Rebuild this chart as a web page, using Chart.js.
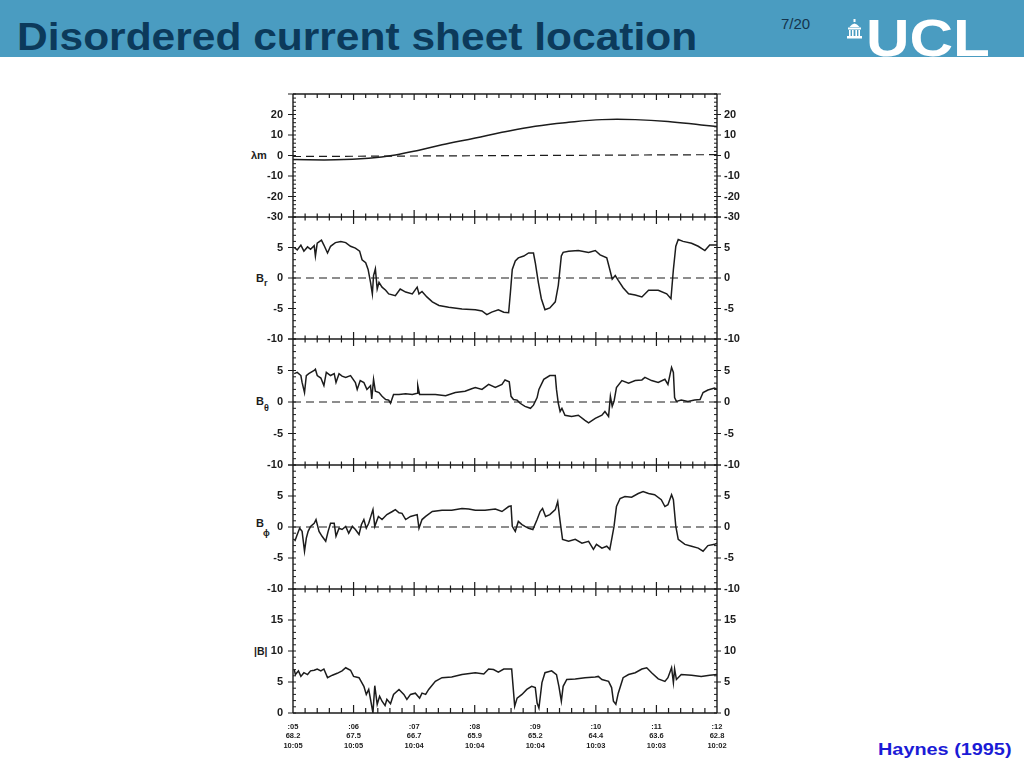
<!DOCTYPE html>
<html>
<head>
<meta charset="utf-8">
<title>Disordered current sheet location</title>
<script src="https://cdn.jsdelivr.net/npm/chart.js@4.4.0/dist/chart.umd.min.js"></script>
<style>
  body { margin:0; width:1024px; height:768px; overflow:hidden; position:relative; background:#fff; font-family:"Liberation Sans", Arial, sans-serif; }
  #header { position:absolute; left:0; top:0; width:1024px; height:57px; background:#4a9cc1; overflow:hidden; }
  #title { position:absolute; left:17px; top:17px; font-size:39px; line-height:39px; font-weight:bold; color:#0c3a5b; white-space:nowrap; transform-origin:0 0; }
  #page { position:absolute; left:781px; top:16px; font-size:15px; line-height:16px; color:#14344c; }
  #ucl { position:absolute; left:866px; top:12px; font-size:52px; line-height:52px; font-weight:bold; color:#fff; white-space:nowrap; transform-origin:0 0; }
  #icon { position:absolute; left:846px; top:19px; }
  .panel { position:absolute; left:235px; }
  .ylab { position:absolute; font-weight:bold; font-size:11px; line-height:12px; color:#1c1c1c; white-space:nowrap; }
  .ylab span { font-size:9px; position:relative; }
  #cite { position:absolute; left:878px; top:741px; font-size:16px; line-height:18px; font-weight:bold; color:#1b1bd6; white-space:nowrap; transform-origin:0 0; }
</style>
</head>
<body>
<div id="header">
  <div id="title">Disordered current sheet location</div>
  <div id="page">7/20</div>
  <svg id="icon" width="17" height="21" viewBox="0 0 17 21" fill="#fff">
    <rect x="7.5" y="0" width="2" height="3"/>
    <path d="M3.5 8 Q8.5 1 13.5 8 Z"/>
    <rect x="2" y="8.5" width="13" height="2"/>
    <rect x="3" y="11" width="1.6" height="6"/>
    <rect x="6" y="11" width="1.6" height="6"/>
    <rect x="9.4" y="11" width="1.6" height="6"/>
    <rect x="12.4" y="11" width="1.6" height="6"/>
    <rect x="1" y="17" width="15" height="2.5"/>
  </svg>
  <div id="ucl">UCL</div>
</div>

<div class="ylab" style="left:251px;top:149px">λm</div>
<div class="ylab" style="left:256px;top:272px">B<span style="top:4px">r</span></div>
<div class="ylab" style="left:256px;top:395px">B<span style="top:6px">θ</span></div>
<div class="ylab" style="left:256px;top:517px">B<span style="top:9px;left:-1px">ϕ</span></div>
<div class="ylab" style="left:254px;top:645px;font-size:10.5px">|B|</div>

<div id="cite">Haynes (1995)</div>

<script>
// minutes after 10:00 (x axis), field values from the scan
const lamTime  = [5.00, 5.70, 6.25, 6.69, 7.08, 7.46, 8.01, 8.45, 9.00, 9.55, 10.10, 10.65, 11.19, 11.74, 12.00];
const lamValue = [-2.0, -2.1, -1.3, 0.3, 2.6, 5.2, 8.5, 11.3, 14.3, 16.2, 17.5, 17.5, 16.6, 14.9, 14.1];
const lamZero  = [-0.5, 0.4];

const brTime = [5.02, 5.07, 5.13, 5.18, 5.24, 5.29, 5.35, 5.37, 5.40, 5.47, 5.51, 5.57, 5.62, 5.70, 5.79, 5.87, 5.95,
  6.03, 6.10, 6.14, 6.20, 6.24, 6.28, 6.31, 6.33, 6.36, 6.39, 6.42, 6.47, 6.53, 6.58, 6.69, 6.77, 6.86, 6.97,
  7.05, 7.08, 7.13, 7.21, 7.30, 7.41, 7.57, 7.79, 8.01, 8.12, 8.20, 8.28, 8.39, 8.48, 8.56, 8.59, 8.62, 8.67,
  8.72, 8.81, 8.89, 8.97, 9.00, 9.05, 9.10, 9.16, 9.24, 9.33, 9.38, 9.43, 9.46, 9.55, 9.71, 9.88, 9.99, 10.07,
  10.18, 10.23, 10.27, 10.32, 10.37, 10.45, 10.54, 10.65, 10.76, 10.87, 11.03, 11.17, 11.24, 11.28, 11.32,
  11.36, 11.44, 11.58, 11.69, 11.80, 11.88, 12.00];
const brValue = [5.0, 4.6, 5.4, 4.4, 5.1, 4.7, 5.3, 3.6, 5.7, 6.2, 5.4, 4.1, 5.2, 5.8, 6.0, 5.8, 5.2,
  4.9, 4.4, 3.0, 2.5, 1.4, -0.7, -2.6, 0.4, 1.5, -1.8, -0.7, -1.5, -2.0, -2.6, -2.9, -1.8, -2.3, -2.6,
  -1.5, -2.6, -2.2, -3.1, -3.9, -4.5, -4.8, -5.1, -5.2, -5.4, -6.0, -5.6, -5.2, -5.6, -5.7, -2.3, 1.4, 2.8,
  3.3, 3.6, 4.1, 4.1, 2.5, -0.7, -3.4, -5.2, -4.9, -3.9, -1.2, 3.6, 4.2, 4.4, 4.5, 4.2, 4.5, 3.8,
  3.3, 1.4, -0.2, 0.4, -0.4, -1.6, -2.6, -2.8, -3.1, -2.0, -2.0, -2.6, -3.4, 1.4, 5.2,
  6.3, 6.0, 5.7, 5.2, 4.5, 5.4, 5.4];

const bthTime = [5.02, 5.07, 5.13, 5.15, 5.19, 5.22, 5.26, 5.35, 5.37, 5.40, 5.46, 5.51, 5.55, 5.62, 5.68, 5.71,
  5.76, 5.81, 5.87, 5.95, 6.03, 6.06, 6.11, 6.17, 6.22, 6.28, 6.30, 6.33, 6.36, 6.42, 6.47, 6.53, 6.58, 6.61,
  6.66, 6.75, 6.86, 6.97, 7.05, 7.06, 7.09, 7.19, 7.35, 7.52, 7.68, 7.84, 7.95, 8.01, 8.12, 8.23, 8.34, 8.45,
  8.50, 8.57, 8.60, 8.64, 8.70, 8.75, 8.83, 8.92, 8.97, 9.03, 9.06, 9.14, 9.24, 9.33, 9.35, 9.38, 9.41, 9.44,
  9.49, 9.60, 9.71, 9.82, 9.88, 9.99, 10.10, 10.15, 10.21, 10.24, 10.27, 10.30, 10.34, 10.43, 10.54, 10.65,
  10.76, 10.81, 10.92, 11.03, 11.14, 11.19, 11.25, 11.28, 11.30, 11.33, 11.41, 11.52, 11.63, 11.72, 11.77,
  11.85, 11.96, 12.00];
const bthValue = [4.5, 4.7, 4.2, 3.1, 1.5, 4.2, 4.5, 5.0, 5.2, 4.2, 3.8, 2.6, 4.7, 4.2, 4.5, 3.1,
  4.5, 4.1, 3.9, 4.2, 3.1, 2.0, 3.4, 3.1, 2.0, 2.6, 0.5, 3.6, 1.7, 1.5, 0.9, 0.4, 0.3, -0.2,
  1.2, 1.2, 1.3, 1.2, 1.4, 2.6, 1.2, 1.2, 1.2, 1.0, 1.5, 1.7, 2.1, 2.3, 2.0, 2.8, 2.3, 2.8,
  3.5, 3.2, 0.9, 0.4, 0.3, -0.2, -0.7, -1.0, -0.5, 0.7, 2.0, 3.6, 4.2, 4.2, 2.0, -0.2, -1.5, -1.0,
  -2.1, -2.3, -2.1, -2.9, -3.3, -2.6, -2.1, -1.5, -2.3, 0.9, -0.7, 0.1, 2.3, 3.4, 3.0, 3.4,
  3.5, 3.9, 3.4, 3.1, 3.6, 2.8, 5.5, 4.7, 0.7, 0.1, 0.3, 0.1, 0.3, 0.4, 1.5,
  1.9, 2.2, 2.0];

const bphTime = [5.03, 5.07, 5.11, 5.15, 5.19, 5.22, 5.25, 5.29, 5.35, 5.38, 5.43, 5.48, 5.54, 5.58, 5.62, 5.68,
  5.71, 5.76, 5.81, 5.87, 5.92, 5.98, 6.03, 6.09, 6.13, 6.17, 6.21, 6.25, 6.30, 6.32, 6.35, 6.41, 6.47, 6.55,
  6.64, 6.69, 6.75, 6.80, 6.86, 6.94, 7.05, 7.08, 7.13, 7.19, 7.30, 7.46, 7.62, 7.79, 7.90, 8.01, 8.17, 8.34,
  8.45, 8.56, 8.60, 8.62, 8.67, 8.72, 8.78, 8.83, 8.89, 8.96, 9.03, 9.08, 9.12, 9.17, 9.24, 9.33, 9.37, 9.41,
  9.45, 9.55, 9.66, 9.77, 9.88, 9.96, 10.01, 10.10, 10.18, 10.23, 10.27, 10.30, 10.34, 10.40, 10.48, 10.59,
  10.70, 10.78, 10.87, 10.97, 11.08, 11.14, 11.19, 11.25, 11.28, 11.32, 11.36, 11.47, 11.58, 11.69, 11.77,
  11.85, 11.96, 12.00];
const bphValue = [-2.3, -1.2, -0.2, -0.7, -3.9, -1.8, -0.7, 0.1, 0.6, 1.2, -0.7, -1.5, -2.3, -0.7, 0.6, 0.6,
  -1.5, -0.2, -0.4, 0.1, -1.0, 0.1, -0.4, -1.2, 0.4, 1.2, -0.2, 0.6, 2.2, 2.8, 0.1, 1.7, 1.2, 2.0,
  2.5, 2.8, 2.3, 2.2, 1.2, 1.7, 2.0, -0.2, 1.2, 1.7, 2.5, 2.7, 2.7, 3.0, 2.9, 2.7, 2.7, 2.9,
  2.5, 3.3, 3.4, 0.1, -0.7, 0.9, 0.4, 0.1, -0.2, -0.4, 1.2, 2.5, 3.0, 1.7, 2.0, 2.8, 4.1, 0.9,
  -2.0, -2.3, -2.0, -2.6, -2.3, -3.6, -2.8, -3.4, -3.1, -3.6, -1.5, 0.1, 3.3, 4.6, 4.9, 4.8,
  5.4, 5.7, 5.4, 5.2, 4.4, 3.3, 3.6, 5.2, 4.4, 0.1, -2.0, -2.8, -3.1, -3.4, -3.9,
  -3.0, -2.8, -2.6];

const bmagTime = [5.02, 5.04, 5.09, 5.13, 5.18, 5.24, 5.29, 5.35, 5.40, 5.46, 5.51, 5.57, 5.65, 5.73, 5.81, 5.87,
  5.95, 6.00, 6.09, 6.17, 6.21, 6.25, 6.28, 6.32, 6.35, 6.39, 6.43, 6.47, 6.52, 6.55, 6.61, 6.66, 6.75, 6.83,
  6.88, 6.94, 7.02, 7.09, 7.13, 7.19, 7.24, 7.35, 7.46, 7.62, 7.79, 8.01, 8.15, 8.23, 8.31, 8.39, 8.48, 8.61,
  8.66, 8.70, 8.78, 8.86, 8.94, 9.00, 9.03, 9.06, 9.11, 9.16, 9.27, 9.35, 9.39, 9.43, 9.46, 9.52, 9.66, 9.82,
  9.99, 10.04, 10.10, 10.21, 10.26, 10.29, 10.33, 10.37, 10.45, 10.54, 10.65, 10.76, 10.84, 10.92, 11.03,
  11.14, 11.19, 11.25, 11.28, 11.30, 11.33, 11.41, 11.58, 11.74, 11.88, 12.00];
const bmagValue = [7.0, 6.2, 6.8, 5.9, 6.5, 6.2, 6.8, 6.9, 7.1, 6.8, 7.1, 5.7, 6.1, 6.4, 6.8, 7.3,
  6.9, 5.9, 5.7, 4.3, 3.0, 3.8, 2.2, 0.0, 4.4, 1.4, 2.7, 1.9, 1.2, 2.2, 1.5, 3.0, 3.8, 3.0,
  2.2, 3.0, 3.2, 2.4, 3.2, 3.0, 3.8, 5.1, 5.7, 5.8, 6.2, 6.5, 6.3, 7.1, 7.0, 6.6, 7.1, 7.1,
  1.1, 2.4, 3.0, 3.8, 4.3, 4.1, 1.6, 0.8, 4.9, 6.5, 6.8, 6.2, 4.3, 1.9, 4.3, 5.4, 5.5, 5.7,
  5.8, 5.9, 5.4, 5.1, 4.1, 1.9, 1.4, 3.2, 5.7, 6.2, 6.5, 7.1, 7.3, 6.5, 5.5,
  5.1, 5.7, 7.3, 4.9, 7.1, 5.4, 6.2, 6.1, 5.9, 6.1, 6.2];

// bottom axis: minute, latitude, local time
const minuteLabels = [':05', ':06', ':07', ':08', ':09', ':10', ':11', ':12'];
const latLabels    = ['68.2', '67.5', '66.7', '65.9', '65.2', '64.4', '63.6', '62.8'];
const timeLabels   = ['10:05', '10:05', '10:04', '10:04', '10:04', '10:03', '10:03', '10:02'];

const INK = '#1c1c1c';

// panel frame pixel rows (top, bottom) and y ranges
const panels = [
  { top: 94,  bottom: 217, min: -30, max: 30, step: 10, minor: 2, t: lamTime,  v: lamValue,  zero: lamZero, smooth: true },
  { top: 217, bottom: 339, min: -10, max: 10, step: 5,  minor: 1, t: brTime,   v: brValue,   zero: [0, 0] },
  { top: 339, bottom: 465, min: -10, max: 10, step: 5,  minor: 1, t: bthTime,  v: bthValue,  zero: [0, 0] },
  { top: 465, bottom: 589, min: -10, max: 10, step: 5,  minor: 1, t: bphTime,  v: bphValue,  zero: [0, 0] },
  { top: 589, bottom: 713, min: 0,   max: 20, step: 5,  minor: 1, t: bmagTime, v: bmagValue, zero: null }
];

// frame, cross ticks on the panel separators and ruler ticks on both y axes
const frameTicks = {
  id: 'frameTicks',
  afterDatasetsDraw(chart, args, opts) {
    const { ctx, chartArea: a } = chart;
    const x = chart.scales.x, y = chart.scales.y;
    ctx.save();
    ctx.strokeStyle = INK;
    ctx.lineWidth = 1.4;
    ctx.beginPath();
    if (opts.first) { ctx.moveTo(a.left, a.top); ctx.lineTo(a.right, a.top); }
    ctx.moveTo(a.left, a.bottom); ctx.lineTo(a.right, a.bottom);
    ctx.moveTo(a.left, a.top); ctx.lineTo(a.left, a.bottom);
    ctx.moveTo(a.right, a.top); ctx.lineTo(a.right, a.bottom);
    ctx.stroke();

    ctx.lineWidth = 1.2;
    ctx.beginPath();
    for (let k = 1; k < 35; k++) {
      const px = x.getPixelForValue(5 + k * 0.2);
      const major = k % 5 === 0;
      if (opts.first) {
        ctx.moveTo(px, a.top); ctx.lineTo(px, a.top + (major ? 6 : 4));
      }
      if (opts.last) {
        ctx.moveTo(px, a.bottom); ctx.lineTo(px, a.bottom - (major ? 8 : 5));
      } else {
        const h = major ? 7 : 3.5;
        ctx.moveTo(px, a.bottom - h); ctx.lineTo(px, a.bottom + h);
      }
    }
    ctx.stroke();

    ctx.lineWidth = 1;
    ctx.beginPath();
    for (let v = y.min; v <= y.max; v += opts.minor) {
      const py = y.getPixelForValue(v);
      if (v % opts.major === 0) {
        ctx.moveTo(a.left - 5, py); ctx.lineTo(a.left + 3, py);
        ctx.moveTo(a.right - 3, py); ctx.lineTo(a.right + 4, py);
      } else {
        ctx.moveTo(a.left, py); ctx.lineTo(a.left + 3, py);
        ctx.moveTo(a.right - 3, py); ctx.lineTo(a.right, py);
      }
    }
    ctx.stroke();
    ctx.restore();
  }
};

const tickFont = { family: '"Liberation Sans", Arial, sans-serif', size: 11, weight: 'bold' };

panels.forEach((p, i) => {
  const last = i === panels.length - 1;
  const top = p.top - 10;
  const height = last ? (p.bottom - top) + 47 : (p.bottom - top) + 10;
  const box = document.createElement('div');
  box.className = 'panel';
  box.style.top = top + 'px';
  const canvas = document.createElement('canvas');
  canvas.width = 525;
  canvas.height = height;
  box.appendChild(canvas);
  document.body.appendChild(box);

  const datasets = [{
    data: p.t.map((m, j) => ({ x: m, y: p.v[j] })),
    borderColor: INK, borderWidth: 1.5, pointRadius: 0,
    tension: p.smooth ? 0.4 : 0, fill: false
  }];
  if (p.zero) {
    datasets.push({
      data: [{ x: 5, y: p.zero[0] }, { x: 12, y: p.zero[1] }],
      borderColor: INK, borderWidth: 1.2, borderDash: [8, 5], pointRadius: 0, fill: false
    });
  }

  const yTicks = (pad) => ({
    stepSize: p.step, autoSkip: false, padding: pad, color: INK, font: tickFont,
    callback: (v) => (v === p.max ? '' : String(v))
  });
  // fixed axis widths, no extra room for the end labels
  const fitY = (w) => (s) => { s.width = w; s.paddingTop = 0; s.paddingBottom = 0; };

  new Chart(canvas, {
    type: 'line',
    data: { datasets },
    options: {
      responsive: false,
      animation: false,
      events: [],
      layout: { padding: { top: 10, bottom: last ? 0 : 10, left: 0, right: 0 } },
      plugins: {
        legend: { display: false },
        tooltip: { enabled: false },
        frameTicks: { first: i === 0, last, minor: p.minor, major: p.step }
      },
      scales: {
        x: {
          type: 'linear', min: 5, max: 12, display: last,
          grid: { display: false, drawTicks: false },
          border: { display: false },
          ticks: {
            stepSize: 1, autoSkip: false, maxRotation: 0, padding: 9, color: INK,
            font: { family: tickFont.family, size: 7.5, weight: 'bold', lineHeight: 1.27 },
            callback: (v) => {
              const k = Math.round(v - 5);
              return [minuteLabels[k], latLabels[k], timeLabels[k]];
            }
          },
          afterFit: (s) => { if (last) { s.height = 47; s.paddingLeft = 0; s.paddingRight = 0; } }
        },
        y: {
          position: 'left', min: p.min, max: p.max,
          grid: { display: false, drawTicks: false },
          border: { display: false },
          ticks: yTicks(10),
          afterFit: fitY(58)
        },
        y2: {
          position: 'right', min: p.min, max: p.max,
          grid: { display: false, drawTicks: false },
          border: { display: false },
          ticks: yTicks(7),
          afterFit: fitY(43)
        }
      }
    },
    plugins: [frameTicks]
  });
});

// stretch header texts to the widths seen on the slide
function fitWidth(id, target) {
  const el = document.getElementById(id);
  el.style.transform = 'scaleX(' + (target / el.offsetWidth) + ')';
}
fitWidth('title', 680);
fitWidth('ucl', 124);
fitWidth('cite', 134);
</script>
</body>
</html>
